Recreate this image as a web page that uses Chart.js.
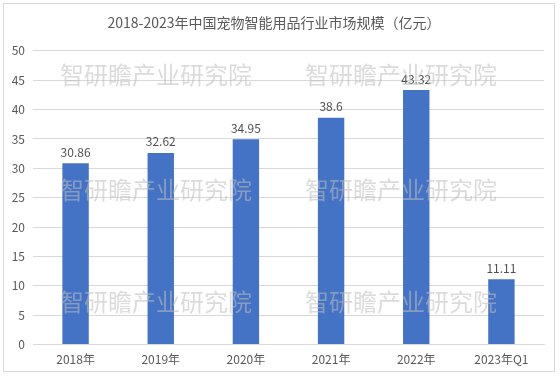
<!DOCTYPE html>
<html>
<head>
<meta charset="utf-8">
<script src="https://cdn.jsdelivr.net/npm/chart.js@4/dist/chart.umd.min.js"></script>
<style>
  body { margin: 0; background: #fff; }
  .frame {
    position: absolute; left: 3px; top: 3px;
    width: 550px; height: 367px;
    border: 1px solid #d9d9d9;
  }
</style>
</head>
<body>
<div class="frame"><canvas id="c" width="550" height="367"></canvas></div>
<script>
const categories = ['2018年', '2019年', '2020年', '2021年', '2022年', '2023年Q1'];
const marketSize = [30.86, 32.62, 34.95, 38.6, 43.32, 11.11];
const yTicks = [0, 5, 10, 15, 20, 25, 30, 35, 40, 45, 50];

const cjk = '"Noto Sans CJK SC", "Noto Sans", sans-serif';

// values printed above each bar
const barLabels = {
    id: 'barLabels',
    afterDatasetsDraw(chart) {
        const ctx = chart.ctx;
        const meta = chart.getDatasetMeta(0);
        ctx.save();
        ctx.font = '12px ' + cjk;
        ctx.fillStyle = '#505050';
        ctx.textAlign = 'center';
        ctx.textBaseline = 'bottom';
        meta.data.forEach((bar, i) => {
            ctx.fillText(String(marketSize[i]), bar.x, bar.y - 5);
        });
        ctx.restore();
    }
};

// repeated watermark text
const watermark = {
    id: 'watermark',
    afterDraw(chart) {
        const ctx = chart.ctx;
        const area = chart.chartArea;
        ctx.save();
        ctx.font = '24px ' + cjk;
        ctx.fillStyle = 'rgba(190, 190, 190, 0.55)';
        ctx.textAlign = 'left';
        ctx.textBaseline = 'middle';
        const xs = [area.left + 27, area.left + 272];
        const ys = [71, 186, 298];
        ys.forEach(y => xs.forEach(x => ctx.fillText('智研瞻产业研究院', x, y)));
        ctx.restore();
    }
};

new Chart(document.getElementById('c'), {
    type: 'bar',
    data: {
        labels: categories,
        datasets: [{
            data: marketSize,
            backgroundColor: '#4472C4',
            categoryPercentage: 1,
            barPercentage: 0.31,
        }],
    },
    options: {
        responsive: false,
        animation: false,
        layout: { padding: { left: 0, right: 10, top: 0, bottom: -4 } },
        plugins: {
            legend: { display: false },
            tooltip: { enabled: false },
            title: {
                display: true,
                text: '2018-2023年中国宠物智能用品行业市场规模（亿元）',
                color: '#595959',
                font: { family: cjk, size: 14, weight: 'normal' },
                padding: { top: 10, bottom: 20 },
            },
        },
        scales: {
            x: {
                grid: { display: false, drawTicks: false },
                border: { color: '#d9d9d9' },
                ticks: { color: '#595959', font: { family: cjk, size: 12 }, padding: 8 },
            },
            y: {
                min: 0,
                max: 50,
                afterBuildTicks: (scale) => { scale.ticks = yTicks.map(v => ({ value: v })); },
                afterFit: (scale) => { scale.width = 29; },
                grid: { color: '#d9d9d9', drawTicks: false },
                border: { display: false },
                ticks: { color: '#595959', font: { family: cjk, size: 12 }, padding: 8 },
            },
        },
    },
    plugins: [barLabels, watermark],
});
</script>
</body>
</html>
